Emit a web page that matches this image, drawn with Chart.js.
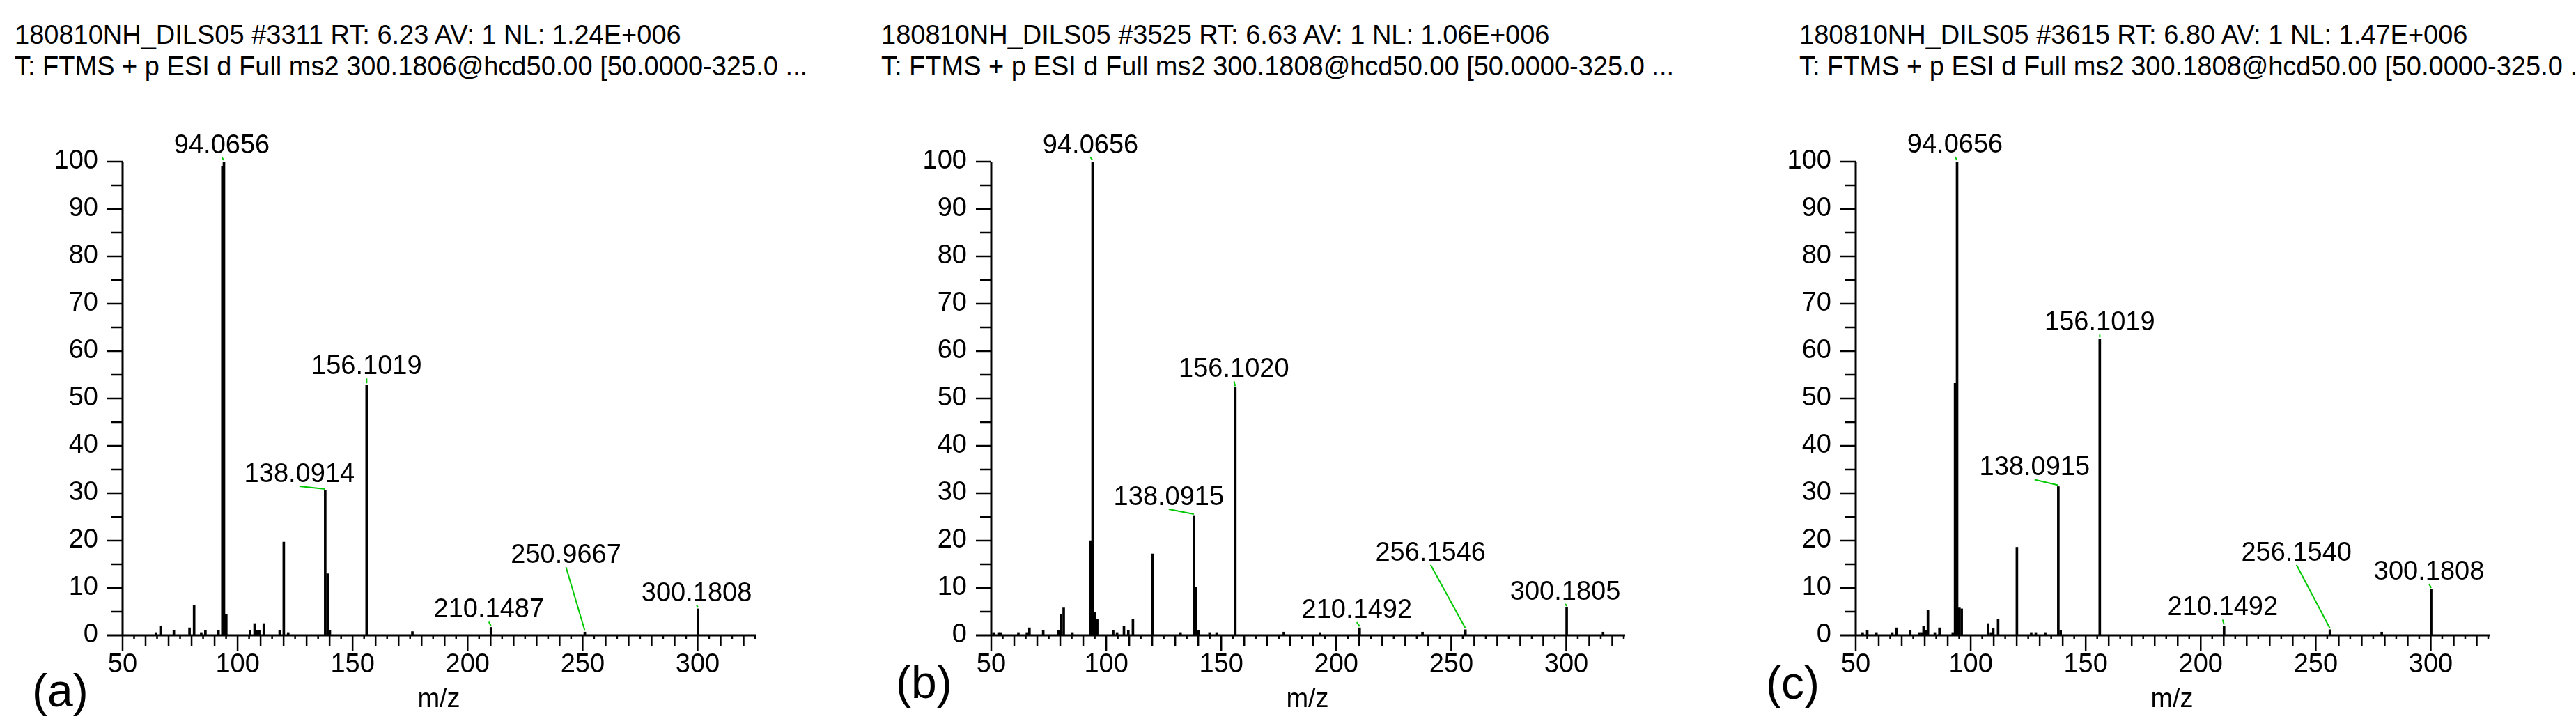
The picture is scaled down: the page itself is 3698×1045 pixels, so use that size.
<!DOCTYPE html>
<html lang="en">
<head>
  <meta charset="UTF-8">
  <title>MS2 spectra 300.18</title>
  <script src="https://cdn.jsdelivr.net/npm/chart.js"></script>
  <style>
    body { margin: 0; width: 3698px; height: 1045px; background: #fff; position: relative; overflow: hidden;
           font-family: "Liberation Sans", Arial, sans-serif; color: #000; }
    .hdr { position: absolute; top: 28px; font-size: 38px; line-height: 45px; white-space: nowrap; }
    .tag { position: absolute; font-size: 66px; line-height: 66px; }
    canvas { position: absolute; top: 0; }
  </style>
</head>
<body>
  <div class="hdr" style="left:21px">180810NH_DILS05 #3311 RT: 6.23 AV: 1 NL: 1.24E+006<br>T: FTMS + p ESI d Full ms2 300.1806@hcd50.00 [50.0000-325.0 ...</div>
  <div class="hdr" style="left:1265px">180810NH_DILS05 #3525 RT: 6.63 AV: 1 NL: 1.06E+006<br>T: FTMS + p ESI d Full ms2 300.1808@hcd50.00 [50.0000-325.0 ...</div>
  <div class="hdr" style="left:2583px">180810NH_DILS05 #3615 RT: 6.80 AV: 1 NL: 1.47E+006<br>T: FTMS + p ESI d Full ms2 300.1808@hcd50.00 [50.0000-325.0 ...</div>

  <div class="tag" style="left:46px; top:958px">(a)</div>
  <div class="tag" style="left:1286px; top:946px">(b)</div>
  <div class="tag" style="left:2535px; top:947px">(c)</div>

  <canvas id="specA" width="1118" height="1045" style="left:6px"></canvas>
  <canvas id="specB" width="1118" height="1045" style="left:1253px"></canvas>
  <canvas id="specC" width="1118" height="1045" style="left:2494px"></canvas>

<script>
// (a) scan #3311
const mzA  = [64.5, 66.5, 72.3, 79.1, 81.1, 84.2, 86.0, 91.7, 93.4, 94.0656, 95.07, 105.4, 107.4, 108.5, 109.4,
              111.4, 118.3, 120.08, 122.0, 138.0914, 139.09, 140.1, 156.1019, 176.0, 210.1487, 250.9667, 300.1808];
const intA = [0.6, 2.0, 1.1, 1.6, 6.3, 0.6, 1.1, 1.1, 99, 100, 4.5, 1.1, 2.5, 1.0, 1.1,
              2.5, 1.1, 19.7, 0.6, 30.6, 13.0, 1.1, 52.9, 0.8, 1.7, 0.7, 5.6];
const labelMzA = [94.0656, 138.0914, 156.1019, 210.1487, 250.9667, 300.1808];

// (b) scan #3525
const mzB  = [51.0, 53.2, 54.0, 61.8, 65.5, 66.6, 72.6, 79.2, 80.3, 81.5, 85.3, 93.2, 94.0656, 95.07, 96.07,
              103.0, 104.7, 107.7, 109.6, 111.6, 120.08, 132.3, 138.0915, 139.09, 140.1, 144.9, 148.0, 156.1020,
              177.2, 193.0, 210.1492, 237.5, 256.1546, 300.1805, 316.0];
const intB = [0.6, 0.6, 0.6, 0.6, 0.6, 1.6, 1.1, 1.1, 4.4, 5.8, 0.6, 20.0, 100, 4.8, 3.4,
              1.1, 0.6, 2.0, 1.1, 3.4, 17.2, 0.6, 25.3, 10.1, 1.1, 0.6, 0.6, 52.3,
              0.7, 0.6, 1.6, 0.7, 1.2, 5.9, 0.7];
const labelMzB = [94.0656, 138.0915, 156.1020, 210.1492, 256.1546, 300.1805];

// (c) scan #3615
const mzC  = [53.0, 55.0, 59.0, 65.9, 67.7, 73.7, 77.5, 78.5, 79.5, 80.5, 81.4, 84.4, 86.4, 92.2, 93.2, 94.0656,
              95.07, 96.07, 107.6, 108.8, 109.8, 111.9, 120.08, 126.3, 128.3, 132.4, 138.0915, 139.09, 156.1019,
              210.1492, 256.1540, 278.7, 300.1808];
const intC = [0.6, 1.1, 0.6, 0.6, 1.6, 1.1, 0.6, 0.6, 2.0, 1.1, 5.3, 0.6, 1.6, 0.6, 53.2, 100,
              5.8, 5.6, 2.5, 0.6, 1.5, 3.4, 18.6, 0.6, 0.6, 0.6, 31.4, 1.1, 62.6,
              2.0, 1.2, 0.7, 9.7];
const labelMzC = [94.0656, 138.0915, 156.1019, 210.1492, 256.1540, 300.1808];

// axis ranges and tick steps
const mzRange = [50, 325];
const relRange = [0, 100];

// where each peak label sits relative to its peak top, in px (dx, dy of the baseline)
const shiftA = [[-3, -12], [-37, -12], [0, -15], [-3, -14], [-27, -99], [-2, -11]];
const shiftB = [[-3, -12], [-36, -15], [-2, -15], [-4, -14], [-50, -99], [-2, -11]];
const shiftC = [[-3, -13], [-34, -16], [0, -12], [-2, -15], [-48, -99], [-3, -14]];

const FONT = '"Liberation Sans", Arial, sans-serif';

// axes with their minor ticks, then peak labels with green leader lines
const spectrumDecor = {
  id: 'spectrumDecor',
  afterDraw(chart, args, opts) {
    const { ctx, chartArea: a, scales: { x, y } } = chart;
    const y0 = y.getPixelForValue(0);
    ctx.save();
    ctx.strokeStyle = '#000';
    ctx.lineWidth = 3;
    ctx.beginPath();
    ctx.moveTo(a.left, y.getPixelForValue(100));
    ctx.lineTo(a.left, y0);
    ctx.moveTo(a.left - 22, y0);
    ctx.lineTo(a.right + 2, y0);
    ctx.stroke();

    ctx.lineWidth = 2.5;
    ctx.beginPath();
    for (let v = mzRange[0]; v <= mzRange[1]; v += 5) {
      const px = x.getPixelForValue(v);
      const len = v % 50 === 0 ? 22 : (v % 10 === 0 ? 15 : 5);
      ctx.moveTo(px, y0);
      ctx.lineTo(px, y0 + len);
    }
    for (let v = 5; v <= relRange[1]; v += 5) {
      const py = y.getPixelForValue(v);
      const len = v % 10 === 0 ? 22 : 16;
      ctx.moveTo(a.left, py);
      ctx.lineTo(a.left - len, py);
    }
    ctx.stroke();

    const data = chart.data.datasets[0].data;
    ctx.font = '38px ' + FONT;
    ctx.textAlign = 'center';
    ctx.textBaseline = 'alphabetic';
    opts.labels.forEach((m, i) => {
      const pt = data.find(d => d.x === m);
      const px = x.getPixelForValue(pt.x);
      const py = y.getPixelForValue(pt.y);
      const lx = px + opts.shift[i][0];
      const ly = py + opts.shift[i][1];
      ctx.strokeStyle = '#00c800';
      ctx.lineWidth = 2;
      ctx.beginPath();
      ctx.moveTo(lx, ly + 6);
      ctx.lineTo(px, py - 2);
      ctx.stroke();
      ctx.fillStyle = '#000';
      ctx.fillText(m.toFixed(4), lx, ly);
    });
    ctx.restore();
  }
};

function makeSpectrum(id, mz, inten, labels, shift) {
  const tickFont = { family: FONT, size: 38 };
  return new Chart(document.getElementById(id), {
    type: 'bar',
    data: {
      datasets: [{
        data: mz.map((m, i) => ({ x: m, y: inten[i] })),
        backgroundColor: '#000',
        borderWidth: 0,
        barThickness: 3
      }]
    },
    options: {
      responsive: false,
      animation: false,
      devicePixelRatio: 1,
      layout: { padding: { left: 0, top: 232, right: 40, bottom: 0 } },
      plugins: {
        legend: { display: false },
        tooltip: { enabled: false },
        spectrumDecor: { labels: labels, shift: shift }
      },
      scales: {
        x: {
          type: 'linear',
          min: mzRange[0], max: mzRange[1],
          offset: false,
          grid: { display: false, drawTicks: false },
          border: { display: false },
          ticks: { stepSize: 50, includeBounds: false, padding: 20, color: '#000', font: tickFont,
                   maxRotation: 0, autoSkip: false },
          title: { display: true, text: 'm/z', color: '#000', font: tickFont, padding: { top: 0, bottom: 18 } },
          afterFit(s) { s.height = 133; }
        },
        y: {
          min: relRange[0], max: relRange[1],
          grid: { display: false, drawTicks: false },
          border: { display: false },
          ticks: { stepSize: 10, padding: 35, color: '#000', font: tickFont },
          afterFit(s) { s.width = 170; }
        }
      }
    },
    plugins: [spectrumDecor]
  });
}

makeSpectrum('specA', mzA, intA, labelMzA, shiftA);
makeSpectrum('specB', mzB, intB, labelMzB, shiftB);
makeSpectrum('specC', mzC, intC, labelMzC, shiftC);
</script>
</body>
</html>
